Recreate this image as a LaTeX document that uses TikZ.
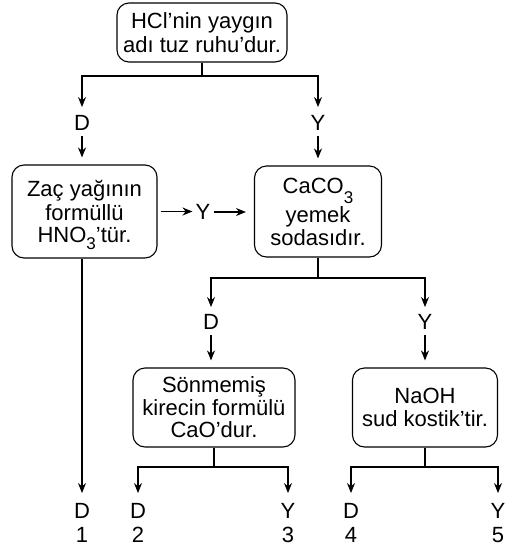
\documentclass[tikz,border=0pt]{standalone}
\usepackage{fontspec}
\setmainfont{Liberation Sans}
\usetikzlibrary{arrows.meta}
\newcommand\mysub[2]{\raisebox{#1}[0pt][0pt]{\fontsize{17}{17}\selectfont #2}}
\begin{document}
\begin{tikzpicture}[x=1pt,y=-1pt,
  box/.style={draw, line width=1.1pt, rounded corners=12pt, align=center, inner sep=0pt, font=\fontsize{22}{22.5}\selectfont},
  lbl/.style={inner sep=0pt, text height=15.5pt, text depth=0pt, font=\fontsize{22}{22.5}\selectfont},
  con/.style={line width=1.1pt},
  arr/.style={con, -{Stealth[length=10pt,width=8pt]}}]
\useasboundingbox (0,0) rectangle (513,550);

\node[box, minimum width=170pt, minimum height=59pt] (top) at (202,32.5) {HCl’nin yaygın\\[1pt]adı tuz ruhu’dur.};
\node[box, minimum width=145pt, minimum height=93pt] (zac) at (84.5,211.5) {Zaç yağının\\[1.5pt]formüllü\\HNO\mysub{-7pt}{3}’tür.};
\node[box, minimum width=127pt, minimum height=91pt] (caco) at (318,211.5) {CaCO\mysub{-10pt}{3}\\[7pt]yemek\\sodasıdır.};
\node[box, minimum width=162pt, minimum height=79pt] (son) at (214,407.5) {Sönmemiş\\kirecin formülü\\CaO’dur.};
\node[box, minimum width=145pt, minimum height=79pt] (naoh) at (425,407.5) {NaOH\\sud kostik’tir.};

\node[lbl] (d1) at (82,123) {D};
\node[lbl] (y1) at (318,123) {Y};
\node[lbl] (y2) at (203,212) {Y};
\node[lbl] (d2) at (211,322) {D};
\node[lbl] (y3) at (425,322) {Y};

\node[lbl] (b1) at (82,511) {D};
\node[lbl] (b2) at (138,511) {D};
\node[lbl] (b3) at (288,511) {Y};
\node[lbl] (b4) at (351,511) {D};
\node[lbl] (b5) at (498,511) {Y};
\node[lbl] (n1) at (82,535) {1};
\node[lbl] (n2) at (138,535) {2};
\node[lbl] (n3) at (288,535) {3};
\node[lbl] (n4) at (351,535) {4};
\node[lbl] (n5) at (498,535) {5};

\coordinate (tj) at (202,76);
\draw[arr, shorten >=8pt] (top.south) -- (tj) -| (d1.north);
\draw[arr, shorten >=8pt] (tj) -| (y1.north);
\draw[arr, shorten <=5pt, shorten >=7pt] (d1.south) -- (d1.south |- zac.north);
\draw[arr, shorten <=5pt, shorten >=7pt] (y1.south) -- (y1.south |- caco.north);

\draw[arr, shorten <=3pt, shorten >=3pt] (zac.east) -- (zac.east -| y2.west);
\draw[arr, shorten <=3pt, shorten >=8pt] (y2.east) -- (y2.east -| caco.west);

\coordinate (cj) at (318,278);
\draw[arr, shorten >=7pt] (caco.south) -- (cj) -| (d2.north);
\draw[arr, shorten >=7pt] (cj) -| (y3.north);
\draw[arr, shorten <=5pt, shorten >=7pt] (d2.south) -- (d2.south |- son.north);
\draw[arr, shorten <=5pt, shorten >=7pt] (y3.south) -- (y3.south |- naoh.north);

\draw[arr, shorten >=10pt] (zac.south -| b1.north) -- (b1.north);

\coordinate (sj) at (214,467);
\draw[arr, shorten >=10pt] (son.south) -- (sj) -| (b2.north);
\draw[arr, shorten >=10pt] (sj) -| (b3.north);

\coordinate (nj) at (425,467);
\draw[arr, shorten >=10pt] (naoh.south) -- (nj) -| (b4.north);
\draw[arr, shorten >=10pt] (nj) -| (b5.north);
\end{tikzpicture}
\end{document}
